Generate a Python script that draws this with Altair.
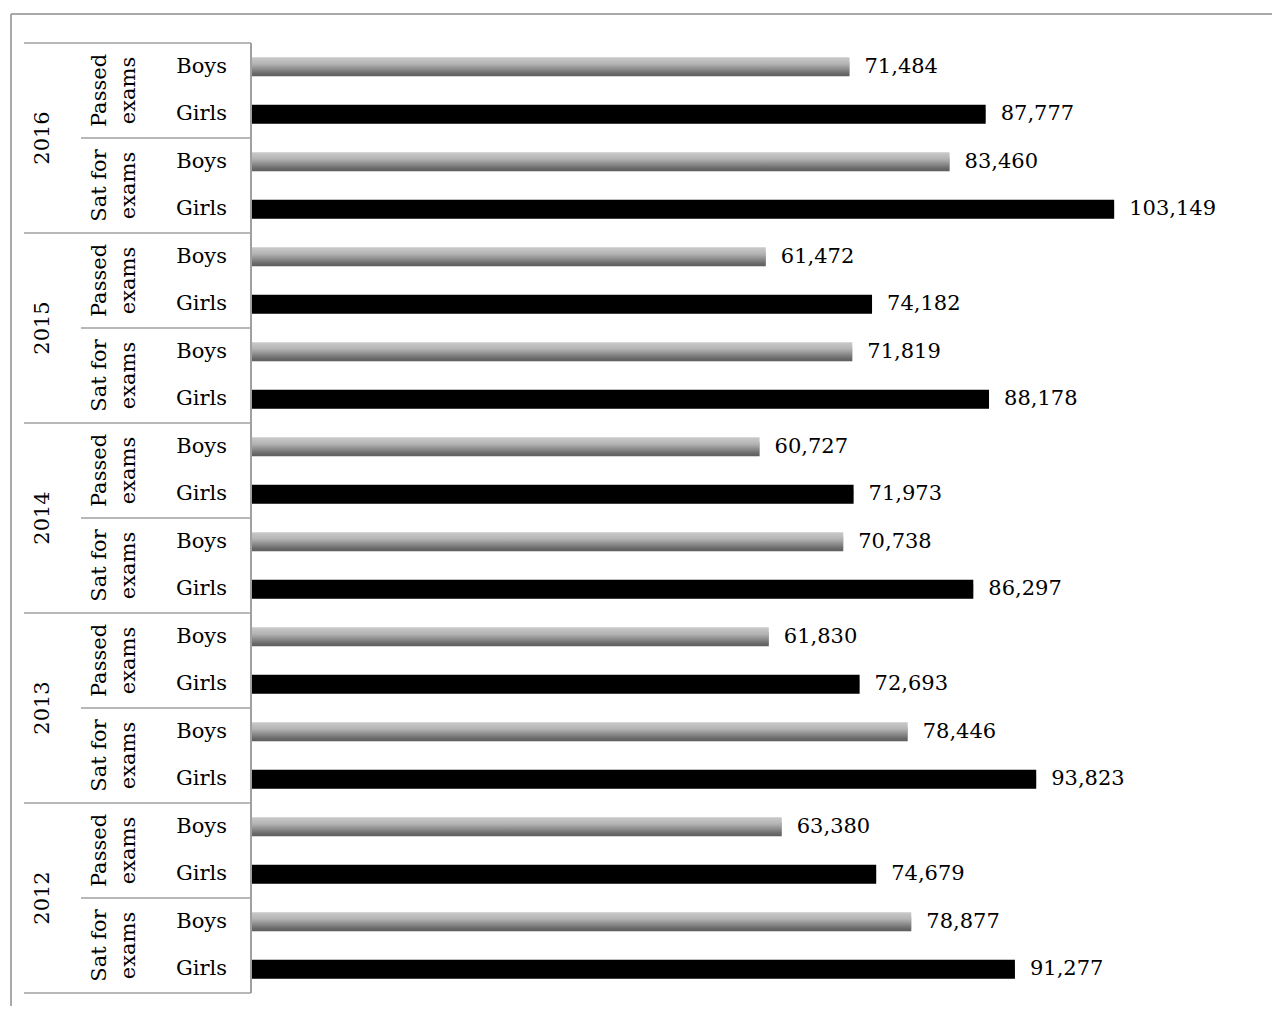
import altair as alt
import pandas as pd

years = ["2016", "2015", "2014", "2013", "2012"]
groups = ["Passed exams", "Sat for exams"]
group_labels = ["Passed\nexams", "Sat for\nexams"]
genders = ["Boys", "Girls"]
passed_boys = [71484, 61472, 60727, 61830, 63380]
passed_girls = [87777, 74182, 71973, 72693, 74679]
sat_boys = [83460, 71819, 70738, 78446, 78877]
sat_girls = [103149, 88178, 86297, 93823, 91277]

series = {
    ("Passed exams", "Boys"): passed_boys,
    ("Passed exams", "Girls"): passed_girls,
    ("Sat for exams", "Boys"): sat_boys,
    ("Sat for exams", "Girls"): sat_girls,
}

rows = []
grp_rows = []
yr_rows = []
for yi, yr in enumerate(years):
    yr_rows.append(dict(year=yr, yc=yi * 4 + 2))
    for gi, grp in enumerate(groups):
        grp_rows.append(dict(label=group_labels[gi], yc=yi * 4 + gi * 2 + 1))
        for gen in genders:
            r = len(rows)
            rows.append(dict(row=r, year=yr, group=grp, gender=gen,
                             value=series[(grp, gen)][yi], zero=0,
                             y0=r + 0.3, y1=r + 0.7, yc=r + 0.5))
df = pd.DataFrame(rows)
df_grp = pd.DataFrame(grp_rows)
df_yr = pd.DataFrame(yr_rows)
n = len(rows)
df_yb = pd.DataFrame(dict(yb=list(range(0, n + 1, 4))))
df_gb = pd.DataFrame(dict(yb=list(range(2, n, 4))))
one = pd.DataFrame(dict(k=[0]))

FONT = "DejaVu Serif"
FS = 21
LINE = "#a0a0a0"

yscale = alt.Scale(domain=[0, n], reverse=True, nice=False, zero=False)
xscale = alt.Scale(domain=[0, 120000], nice=False)


def Y(f):
    return alt.Y(f, type="quantitative", scale=yscale, axis=None)


X = alt.X("value:Q", scale=xscale, axis=None)

gray_grad = alt.Gradient(
    gradient="linear", x1=0, y1=0, x2=0, y2=1,
    stops=[alt.GradientStop(color="#cacaca", offset=0),
           alt.GradientStop(color="#b4b4b4", offset=0.35),
           alt.GradientStop(color="#6a6a6a", offset=0.85),
           alt.GradientStop(color="#5e5e5e", offset=1)])
shadow_grad = alt.Gradient(
    gradient="linear", x1=0, y1=0, x2=0, y2=1,
    stops=[alt.GradientStop(color="#999999", offset=0),
           alt.GradientStop(color="#b5b5b5", offset=0.7),
           alt.GradientStop(color="#f2f2f2", offset=1)])

base = alt.Chart(df)

shadow = base.mark_rect(color=shadow_grad, yOffset=5, opacity=0.85).encode(
    x=X, x2="zero", y=Y("y0"), y2="y1")

boys = base.transform_filter("datum.gender == 'Boys'").mark_rect(color=gray_grad).encode(
    x=X, x2="zero", y=Y("y0"), y2="y1")

girls = base.transform_filter("datum.gender == 'Girls'").mark_rect(color="#000000").encode(
    x=X, x2="zero", y=Y("y0"), y2="y1")

values = base.mark_text(align="left", baseline="middle", dx=15, font=FONT,
                        fontSize=FS, color="#000000").encode(
    x=X, y=Y("yc"), text=alt.Text("value:Q", format=","))

gender_lbl = base.mark_text(align="right", baseline="middle", font=FONT,
                            fontSize=FS, color="#000000").encode(
    x=alt.value(-25), y=Y("yc"), text="gender:N")

group_lbl = alt.Chart(df_grp).mark_text(align="center", baseline="middle", angle=270,
                                        lineBreak="\n", lineHeight=29, font=FONT,
                                        fontSize=FS, color="#000000").encode(
    x=alt.value(-152), y=Y("yc"), text="label:N")

year_lbl = alt.Chart(df_yr).mark_text(align="center", baseline="middle", angle=270,
                                      font=FONT, fontSize=FS, color="#000000").encode(
    x=alt.value(-209), y=Y("yc"), text="year:N")

year_sep = alt.Chart(df_yb).mark_rule(color=LINE, strokeWidth=1.5).encode(
    x=alt.value(-228), x2=alt.value(-1), y=Y("yb"))

group_sep = alt.Chart(df_gb).mark_rule(color=LINE, strokeWidth=1.5).encode(
    x=alt.value(-171), x2=alt.value(-1), y=Y("yb"))

axis_line = alt.Chart(one).mark_rule(color=LINE, strokeWidth=2).encode(
    x=alt.value(-1), y=alt.value(0), y2=alt.value(950))

frame_top = alt.Chart(one).mark_rule(color="#8c8c8c", strokeWidth=1.5).encode(
    x=alt.value(-241), x2=alt.value(1020), y=alt.value(-29))
frame_left = alt.Chart(one).mark_rule(color="#8c8c8c", strokeWidth=1.5).encode(
    x=alt.value(-241), y=alt.value(-29), y2=alt.value(963))

chart = alt.layer(
    frame_top, frame_left, shadow, boys, girls, values, gender_lbl, group_lbl,
    year_lbl, year_sep, group_sep, axis_line
).properties(
    width=1003, height=950, background="#ffffff",
    padding={"left": 2, "top": 5, "right": 0, "bottom": 0},
).configure_view(stroke="transparent", strokeWidth=0)

chart.save("out.html", embed_options={"renderer": "svg", "actions": False})
